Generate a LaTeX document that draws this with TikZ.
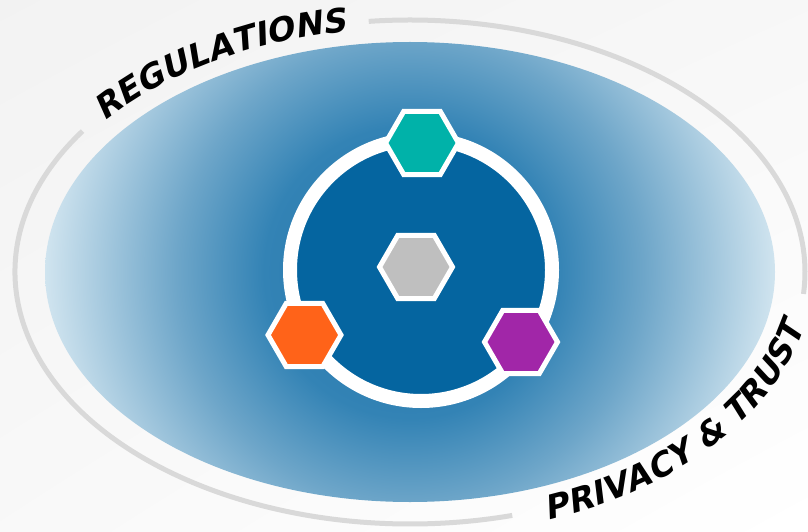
\documentclass[tikz,border=0pt]{standalone}
\usepackage{fontspec}
\setmainfont{DejaVu Sans}
\newfontfamily\letrasfam{DejaVu Sans}[FakeSlant=0.22]
\usepackage{tikz}
\usetikzlibrary{shapes.geometric,decorations.text,shadings}
\definecolor{azulosc}{HTML}{0565A0}
\definecolor{azuluno}{HTML}{2474AA}
\definecolor{azuldos}{HTML}{3383B5}
\definecolor{azultres}{HTML}{6EA6C9}
\definecolor{azulcua}{HTML}{D0E4EF}
\definecolor{verde}{HTML}{00B2A9}
\definecolor{naranja}{HTML}{FF6319}
\definecolor{morado}{HTML}{A126A8}
\definecolor{gris}{HTML}{BFBFBF}
\definecolor{grisarco}{HTML}{D9D9D9}
\pgfdeclareradialshading{degradado}{\pgfpoint{0bp}{0bp}}{color(0bp)=(azuluno); color(10bp)=(azuldos); color(16bp)=(azultres); color(25bp)=(azulcua); color(50bp)=(azulcua)}
\newcommand{\letras}{\letrasfam\fontsize{33}{33}\selectfont\bfseries}
\tikzstyle{hexagono}=[regular polygon,regular polygon sides=6,minimum size=73pt,inner sep=0pt,draw=white,line width=5pt]
\tikzstyle{arco}=[line width=5pt,grisarco]
\begin{document}
\begin{tikzpicture}[x=1pt,y=1pt]
    \useasboundingbox (0,0) rectangle (808,531);
    \shade [upper left=gray!10, upper right=gray!6, lower left=gray!5, lower right=white] (0,0) rectangle (808,531);
    % elipse azul
    \begin{scope}
        \clip (410,259) ellipse [x radius=365, y radius=230];
        \shade [shading=degradado] (410,259) circle [radius=365];
    \end{scope}
    \draw [arco] (410,259) ++(96:395 and 252) arc [start angle=96, end angle=-5, x radius=395, y radius=252];
    \draw [arco] (410,259) ++(146:395 and 252) arc [start angle=146, end angle=285, x radius=395, y radius=252];
    \path [decorate, decoration={text along path, text={|\letras|REGULATIONS}}]
        (410,259) ++(142:388 and 244) arc [start angle=142, end angle=96, x radius=388, y radius=244];
    \path [decorate, decoration={text along path, text={|\letras|PRIVACY {\&} TRUST}}]
        (410,259) ++(-70:403 and 264) arc [start angle=-70, end angle=0, x radius=403, y radius=264];
    % anillo
    \draw [white, line width=14pt, fill=azulosc] (421,261) circle [radius=131];
    \node [hexagono, fill=verde] (arriba) at (422,388) {};
    \node [hexagono, fill=gris] (centro) at (416,264) {};
    \node [hexagono, fill=naranja] (izquierda) at (304.5,196) {};
    \node [hexagono, fill=morado] (derecha) at (521,189) {};
\end{tikzpicture}
\end{document}
